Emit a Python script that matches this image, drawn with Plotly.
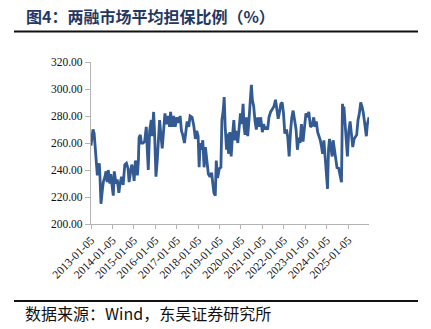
import plotly.graph_objects as go

dates = [
    "2013-01-05", "2013-01-22", "2013-02-08", "2013-02-28", "2013-03-15", "2013-04-01", "2013-04-12", "2013-04-23",
    "2013-05-10", "2013-05-27", "2013-06-07", "2013-06-24", "2013-07-17", "2013-08-03", "2013-08-31", "2013-09-17",
    "2013-10-09", "2013-10-26", "2013-11-23", "2013-12-10", "2014-01-05", "2014-01-20", "2014-02-06", "2014-03-06",
    "2014-03-28", "2014-04-25", "2014-05-12", "2014-06-09", "2014-07-07", "2014-07-18", "2014-08-04", "2014-09-01",
    "2014-09-29", "2014-10-16", "2014-11-07", "2014-11-30", "2014-12-22", "2015-01-10", "2015-02-01", "2015-02-18",
    "2015-03-07", "2015-03-24", "2015-04-04", "2015-04-26", "2015-05-13", "2015-06-10", "2015-07-08", "2015-08-05",
    "2015-08-22", "2015-09-08", "2015-10-01", "2015-10-29", "2015-11-15", "2015-12-08", "2015-12-25", "2016-01-17",
    "2016-02-08", "2016-02-25", "2016-03-19", "2016-04-10", "2016-05-03", "2016-05-26", "2016-06-18", "2016-07-10",
    "2016-08-08", "2016-09-05", "2016-09-22", "2016-10-20", "2016-11-12", "2016-12-10", "2017-01-07", "2017-02-04",
    "2017-03-04", "2017-03-27", "2017-04-18", "2017-05-17", "2017-06-08", "2017-07-01", "2017-07-29", "2017-08-21",
    "2017-09-24", "2017-10-22", "2017-11-19", "2017-12-12", "2018-01-05", "2018-01-22", "2018-02-08", "2018-03-02",
    "2018-03-25", "2018-04-16", "2018-05-09", "2018-05-31", "2018-06-28", "2018-07-26", "2018-08-23", "2018-09-09",
    "2018-10-01", "2018-10-24", "2018-11-10", "2018-12-02", "2018-12-31", "2019-01-28", "2019-02-14", "2019-03-08",
    "2019-03-25", "2019-04-11", "2019-05-04", "2019-05-20", "2019-06-07", "2019-06-29", "2019-07-22", "2019-08-13",
    "2019-09-05", "2019-09-27", "2019-10-20", "2019-11-12", "2019-12-04", "2019-12-27", "2020-01-18", "2020-02-10",
    "2020-02-27", "2020-03-15", "2020-04-07", "2020-04-29", "2020-05-22", "2020-06-13", "2020-06-30", "2020-07-17",
    "2020-08-09", "2020-09-01", "2020-09-23", "2020-10-16", "2020-11-08", "2020-12-06", "2021-01-03", "2021-01-26",
    "2021-02-17", "2021-03-11", "2021-04-03", "2021-04-26", "2021-05-24", "2021-06-21", "2021-07-19", "2021-08-16",
    "2021-09-08", "2021-09-30", "2021-10-23", "2021-11-14", "2021-12-07", "2021-12-30", "2022-01-21", "2022-02-19",
    "2022-03-13", "2022-04-05", "2022-04-28", "2022-05-20", "2022-06-12", "2022-07-04", "2022-08-01", "2022-08-24",
    "2022-09-16", "2022-10-08", "2022-10-31", "2022-11-28", "2022-12-21", "2023-01-16", "2023-02-08", "2023-03-06",
    "2023-04-03", "2023-05-01", "2023-05-29", "2023-06-20", "2023-07-12", "2023-08-04", "2023-08-27", "2023-09-18",
    "2023-10-10", "2023-10-27", "2023-11-18", "2023-12-11", "2024-01-02", "2024-01-19", "2024-02-05", "2024-02-22",
    "2024-03-15", "2024-04-07", "2024-04-24", "2024-05-16", "2024-06-08", "2024-07-01", "2024-07-23", "2024-08-15",
    "2024-09-13", "2024-09-30", "2024-10-14", "2024-10-24", "2024-11-14", "2024-12-06", "2024-12-23", "2025-01-15",
    "2025-02-07", "2025-03-01", "2025-03-24", "2025-04-15", "2025-05-08", "2025-05-30", "2025-06-22", "2025-07-15",
    "2025-08-07", "2025-08-29", "2025-09-21", "2025-10-08", "2025-10-25", "2025-11-11", "2025-11-28", "2025-12-15",
    "2025-12-26",
]

ratio = [
    258, 263, 270, 267, 258, 250, 240, 236,
    241, 245, 235, 215, 225, 231, 235, 239,
    231, 240, 230, 237, 226, 221, 239, 230,
    233, 223, 229, 235, 229, 236, 244, 245,
    241, 231, 236, 244, 240, 232, 247, 244,
    236, 247, 264, 266, 260, 260, 261, 272,
    255, 240, 269, 277, 265, 283, 267, 235,
    247, 260, 277, 266, 256, 269, 282, 274,
    280, 272, 283, 272, 280, 272, 279, 275,
    280, 269, 266, 260, 269, 276, 272, 280,
    279, 273, 263, 269, 265, 242, 260, 255,
    262, 242, 257, 247, 237, 235, 238, 231,
    223, 221, 247, 234, 241, 242, 277, 284,
    294, 272, 255, 267, 252, 268, 250, 265,
    277, 262, 269, 260, 272, 282, 274, 289,
    272, 266, 279, 265, 278, 294, 303, 292,
    287, 276, 270, 279, 272, 279, 268, 274,
    270, 272, 270, 279, 283, 285, 287, 292,
    282, 278, 283, 289, 290, 282, 267, 270,
    264, 250, 268, 279, 284, 279, 270, 255,
    264, 260, 274, 261, 274, 282, 279, 283,
    272, 273, 279, 272, 276, 268, 265, 262,
    257, 252, 262, 247, 240, 226, 255, 263,
    257, 250, 262, 255, 247, 241, 242, 237,
    231, 289, 279, 287, 272, 262, 250, 269,
    276, 267, 257, 263, 265, 266, 277, 282,
    290, 287, 282, 277, 273, 265, 274, 279,
    279,
]

tick_dates = ["2013-01-05", "2014-01-05", "2015-01-05", "2016-01-05", "2017-01-05", "2018-01-05", "2019-01-05",
              "2020-01-05", "2021-01-05", "2022-01-05", "2023-01-05", "2024-01-05", "2025-01-05"]
y_ticks = [200, 220, 240, 260, 280, 300, 320]
y_tick_text = ["200.00", "220.00", "240.00", "260.00", "280.00", "300.00", "320.00"]

title_text = "图4：两融市场平均担保比例（%）"
source_text = "数据来源：Wind，东吴证券研究所"

W, H = 431, 329
L, R, T, B = 91, 62, 62, 105
pw, ph = W - L - R, H - T - B


def px_x(p):
    return (p - L) / pw


def px_y(p):
    return (H - B - p) / ph


fig = go.Figure()
fig.add_trace(go.Scatter(
    x=dates, y=ratio, mode="lines",
    line=dict(color="#335A92", width=2.8),
    hoverinfo="skip", showlegend=False,
))

axis_color = "#B4B4B4"
serif = "Liberation Serif, Times New Roman, serif"
cjk = "Noto Sans CJK SC"

fig.update_layout(
    width=W, height=H,
    margin=dict(l=L, r=R, t=T, b=B, pad=0),
    paper_bgcolor="white", plot_bgcolor="white",
    xaxis=dict(
        type="date", range=["2013-01-05", "2025-12-26"],
        tickmode="array", tickvals=tick_dates, ticktext=tick_dates,
        tickangle=-45, tickfont=dict(family=serif, size=11.5, color="#111111"),
        showgrid=False, zeroline=False,
        showline=True, linecolor=axis_color, linewidth=1.2,
        ticks="outside", ticklen=4, tickcolor=axis_color, tickwidth=1.2,
    ),
    yaxis=dict(
        range=[200, 320], tickmode="array", tickvals=y_ticks, ticktext=y_tick_text,
        tickfont=dict(family=serif, size=11.5, color="#111111"),
        showgrid=False, zeroline=False,
        showline=True, linecolor=axis_color, linewidth=1.2,
        ticks="outside", ticklen=5, tickcolor=axis_color, tickwidth=1.2,
    ),
    shapes=[
        dict(type="line", xref="paper", yref="paper", x0=px_x(14), x1=px_x(418),
             y0=px_y(31.5), y1=px_y(31.5), line=dict(color="#111111", width=2)),
        dict(type="line", xref="paper", yref="paper", x0=px_x(14), x1=px_x(418),
             y0=px_y(301), y1=px_y(301), line=dict(color="#111111", width=2)),
    ],
    annotations=[
        dict(text="<b>" + title_text + "</b>", xref="paper", yref="paper",
             x=px_x(24), y=px_y(16), xanchor="left", yanchor="middle", showarrow=False,
             font=dict(family=cjk, size=16, color="#1F3864")),
        dict(text=source_text, xref="paper", yref="paper",
             x=px_x(23), y=px_y(313), xanchor="left", yanchor="middle", showarrow=False,
             font=dict(family=cjk, size=16, color="#111111")),
    ],
)

fig.write_html("out.html")
